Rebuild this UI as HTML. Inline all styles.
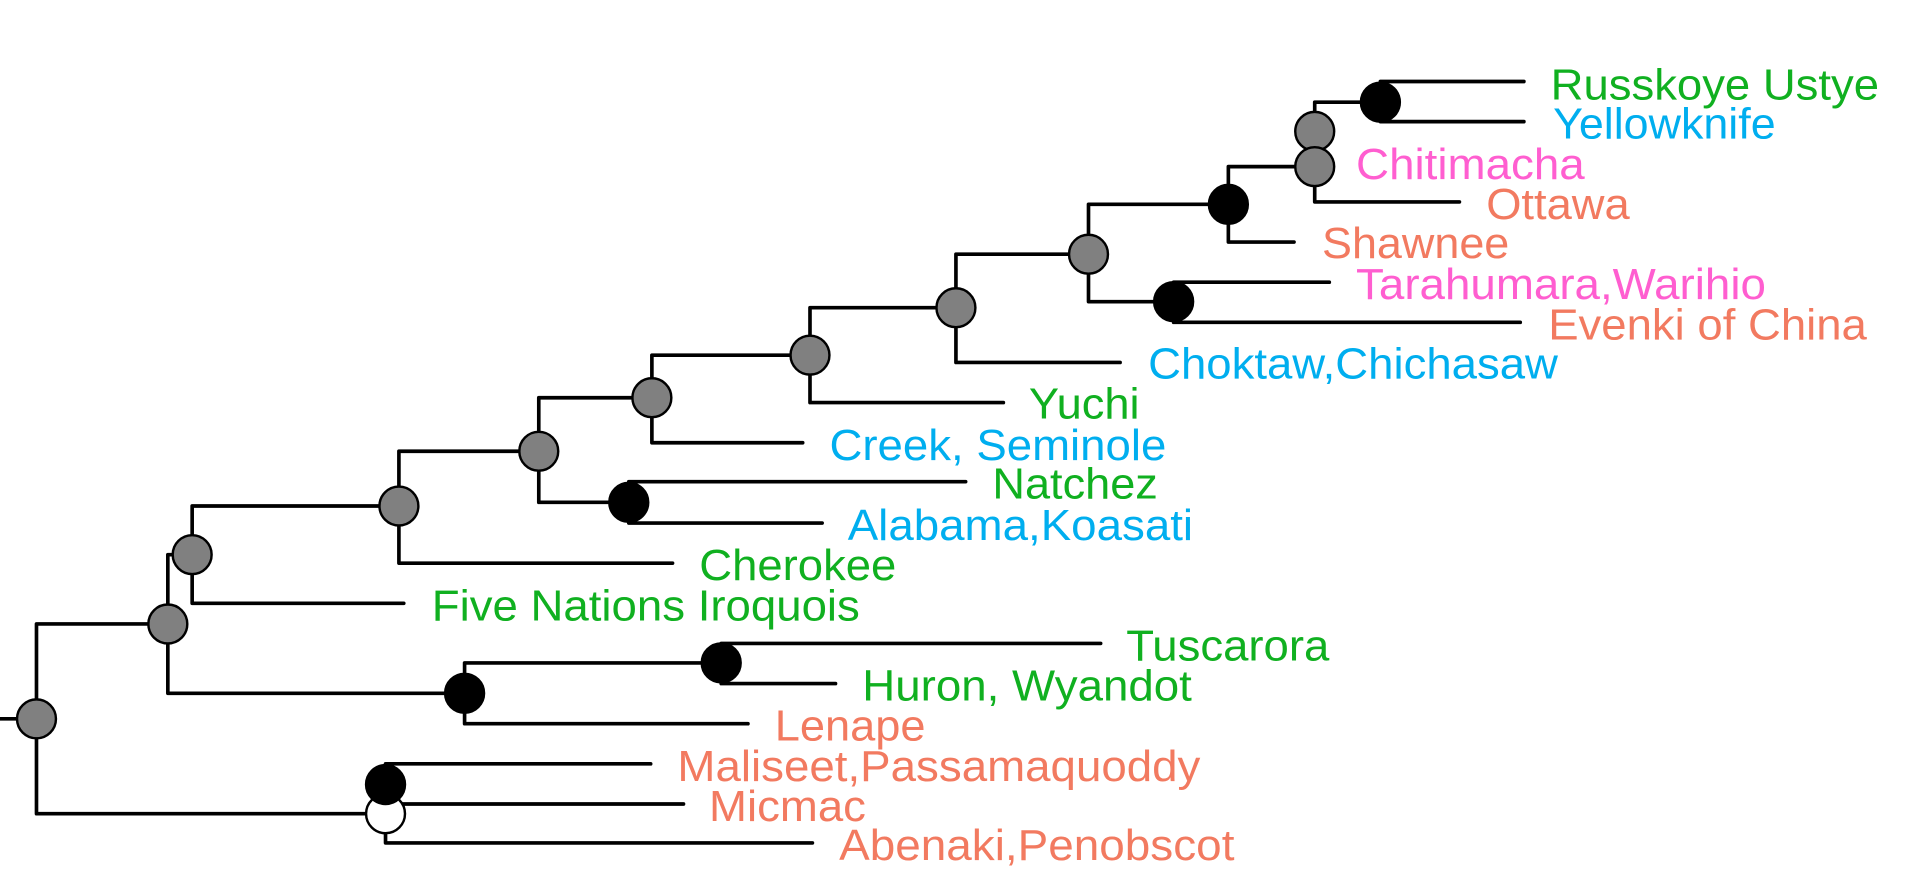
<!DOCTYPE html>
<html><head><meta charset="utf-8"><style>
html,body{margin:0;padding:0;background:#fff;width:1907px;height:894px;overflow:hidden}
svg{display:block}
text{font-family:"Liberation Sans",Arial,sans-serif;font-size:36px}
.g{fill:#10B020}.b{fill:#00AEEF}.p{fill:#FF5ED0}.s{fill:#F27A60}
</style></head><body>
<svg width="1907" height="894" viewBox="0 0 1568 735" preserveAspectRatio="none">
<g stroke="#000" stroke-width="3" fill="none" stroke-linecap="round">
<path d="M0 591H30M30 513V669M30 513H138M30 669H317"/>
<path d="M138 456V570M138 456H158M138 570H382"/>
<path d="M158 416V496M158 416H328M158 496H332"/>
<path d="M328 371V463M328 371H443M328 463H553"/>
<path d="M443 327V413M443 327H536M443 413H517"/>
<path d="M517 396V430M517 396H794M517 430H676"/>
<path d="M536 292V364M536 292H666M536 364H660"/>
<path d="M666 253V331M666 253H786M666 331H825"/>
<path d="M786 209V298M786 209H895M786 298H921"/>
<path d="M895 168V248M895 168H1010M895 248H965"/>
<path d="M965 232V265M965 232H1093M965 265H1250"/>
<path d="M1010 137V199M1010 137H1081M1010 199H1064"/>
<path d="M1081 84V166M1081 84H1135M1081 166H1200"/>
<path d="M1135 67V100M1135 67H1253M1135 100H1253"/>
<path d="M382 545V595M382 545H593M382 595H615"/>
<path d="M593 529V562M593 529H905M593 562H687"/>
<path d="M317 628V693M317 628H535M317 661H562M317 693H668"/>
</g>
<g stroke="#000" stroke-width="2">
<circle cx="30" cy="591" r="16" fill="#808080"/>
<circle cx="138" cy="513" r="16" fill="#808080"/>
<circle cx="158" cy="456" r="16" fill="#808080"/>
<circle cx="328" cy="416" r="16" fill="#808080"/>
<circle cx="443" cy="371" r="16" fill="#808080"/>
<circle cx="517" cy="413" r="16" fill="#000"/>
<circle cx="536" cy="327" r="16" fill="#808080"/>
<circle cx="666" cy="292" r="16" fill="#808080"/>
<circle cx="786" cy="253" r="16" fill="#808080"/>
<circle cx="895" cy="209" r="16" fill="#808080"/>
<circle cx="965" cy="248" r="16" fill="#000"/>
<circle cx="1010" cy="168" r="16" fill="#000"/>
<circle cx="1081" cy="108" r="16" fill="#808080"/>
<circle cx="1081" cy="137" r="16" fill="#808080"/>
<circle cx="1135" cy="84" r="16" fill="#000"/>
<circle cx="382" cy="570" r="16" fill="#000"/>
<circle cx="593" cy="545" r="16" fill="#000"/>
<circle cx="317" cy="669" r="16" fill="#fff"/>
<circle cx="317" cy="645" r="16" fill="#000"/>
</g>
<g>
<text x="1275" y="82" class="g" textLength="270" lengthAdjust="spacingAndGlyphs">Russkoye Ustye</text>
<text x="1277" y="114" class="b" textLength="183" lengthAdjust="spacingAndGlyphs">Yellowknife</text>
<text x="1115" y="147" class="p" textLength="188" lengthAdjust="spacingAndGlyphs">Chitimacha</text>
<text x="1222" y="180" class="s" textLength="118" lengthAdjust="spacingAndGlyphs">Ottawa</text>
<text x="1087" y="212" class="s" textLength="154" lengthAdjust="spacingAndGlyphs">Shawnee</text>
<text x="1115" y="246" class="p" textLength="337" lengthAdjust="spacingAndGlyphs">Tarahumara,Warihio</text>
<text x="1273" y="279" class="s" textLength="262" lengthAdjust="spacingAndGlyphs">Evenki of China</text>
<text x="944" y="311" class="b" textLength="337" lengthAdjust="spacingAndGlyphs">Choktaw,Chichasaw</text>
<text x="846" y="344" class="g" textLength="91" lengthAdjust="spacingAndGlyphs">Yuchi</text>
<text x="682" y="378" class="b" textLength="277" lengthAdjust="spacingAndGlyphs">Creek, Seminole</text>
<text x="816" y="410" class="g" textLength="136" lengthAdjust="spacingAndGlyphs">Natchez</text>
<text x="697" y="444" class="b" textLength="284" lengthAdjust="spacingAndGlyphs">Alabama,Koasati</text>
<text x="575" y="477" class="g" textLength="162" lengthAdjust="spacingAndGlyphs">Cherokee</text>
<text x="355" y="510" class="g" textLength="352" lengthAdjust="spacingAndGlyphs">Five Nations Iroquois</text>
<text x="926" y="543" class="g" textLength="167" lengthAdjust="spacingAndGlyphs">Tuscarora</text>
<text x="709" y="576" class="g" textLength="271" lengthAdjust="spacingAndGlyphs">Huron, Wyandot</text>
<text x="637" y="609" class="s" textLength="124" lengthAdjust="spacingAndGlyphs">Lenape</text>
<text x="557" y="642" class="s" textLength="430" lengthAdjust="spacingAndGlyphs">Maliseet,Passamaquoddy</text>
<text x="583" y="675" class="s" textLength="129" lengthAdjust="spacingAndGlyphs">Micmac</text>
<text x="690" y="707" class="s" textLength="325" lengthAdjust="spacingAndGlyphs">Abenaki,Penobscot</text>
</g>
</svg>
</body></html>
